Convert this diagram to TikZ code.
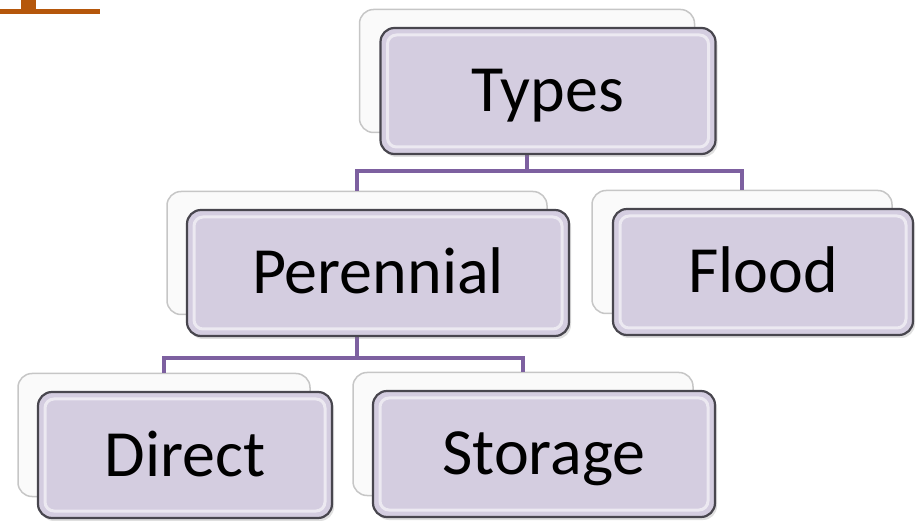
\documentclass[tikz,border=0pt]{standalone}
\usepackage{fontspec}
\setmainfont{Carlito}
\usetikzlibrary{calc,shadows}

\definecolor{boxfill}{RGB}{212,205,224}
\definecolor{boxline}{RGB}{72,70,78}
\definecolor{linkcol}{RGB}{125,96,160}
\definecolor{barcol}{RGB}{181,87,11}

\tikzset{
  backbox/.style={draw=gray!45,line width=1.5pt,fill=gray!4,rounded corners=14pt,
    minimum height=123pt,inner sep=0pt},
  frontbox/.style={draw=boxline,line width=2.2pt,fill=boxfill,rounded corners=14pt,
    minimum height=126pt,inner sep=0pt,text height=42pt,text depth=0pt,
    font=\fontsize{66}{72}\selectfont,
    drop shadow={shadow xshift=2pt,shadow yshift=-3pt,opacity=0.25},
    path picture={\draw[white!55!boxfill,line width=3pt,rounded corners=9pt]
      ([shift={(7pt,-7pt)}]path picture bounding box.north west) rectangle
      ([shift={(-7pt,7pt)}]path picture bounding box.south east);}},
  link/.style={linkcol,line width=4pt}
}

\begin{document}
\begin{tikzpicture}[x=1pt,y=-1pt]
\useasboundingbox (0,0) rectangle (919,521);

\fill[barcol] (0,9) rectangle (100,14);
\fill[barcol] (21,0) rectangle (36,9);

\foreach \n/\x/\y/\w in {types/527/71/335,per/357/253/380,flood/742/252/300,direct/164/435/292,stor/523/434/340}
{
\node[backbox,minimum width=\w pt] (\n B) at (\x,\y) {};
}

\draw[link] (typesB.south) -- ++(0,38) -| (perB.north);
\draw[link] (typesB.south) -- ++(0,38) -| (floodB.north);
\draw[link] (perB.south) -- ++(0,43) -| (directB.north);
\draw[link] (perB.south) -- ++(0,43) -| (storB.north);

\foreach \n/\w/\t in {types/335/Types,per/382/Perennial,flood/300/Flood,direct/294/Direct,stor/342/Storage}
{
\node[frontbox,minimum width=\w pt] (\n) at ($(\n B)+(21,20)$) {\t};
}

\end{tikzpicture}
\end{document}
